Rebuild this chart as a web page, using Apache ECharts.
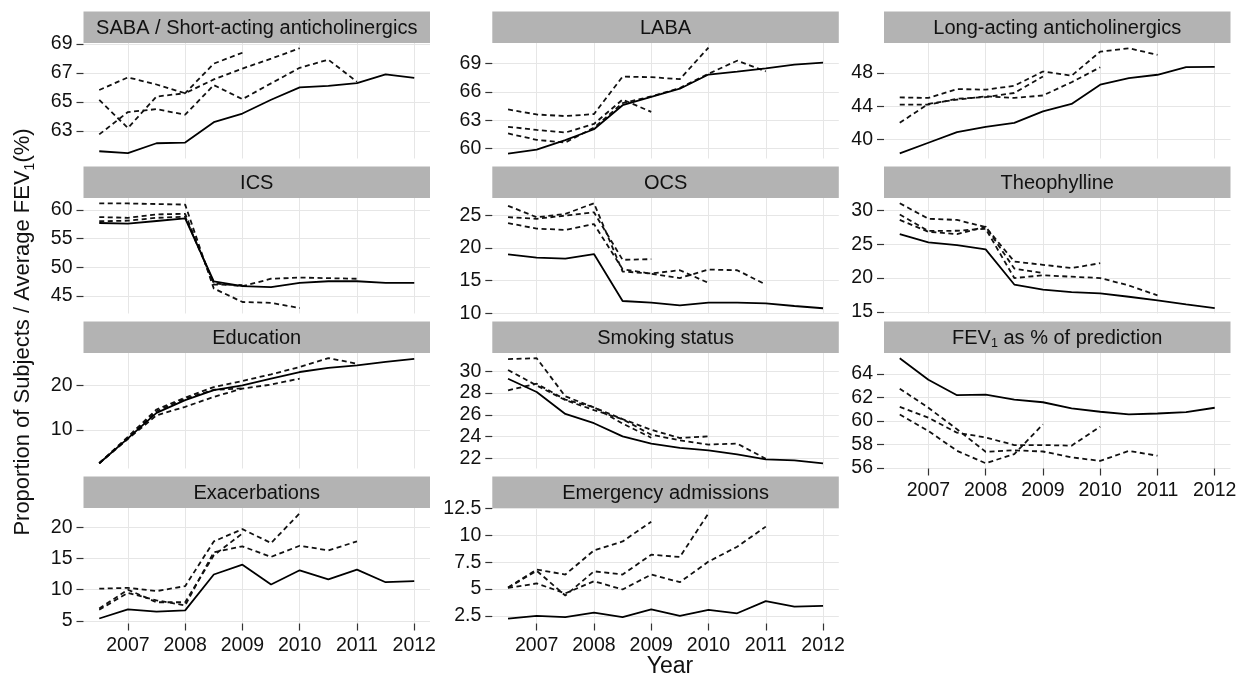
<!DOCTYPE html>
<html>
<head>
<meta charset="utf-8">
<title>Trends by year</title>
<script src="https://cdn.jsdelivr.net/npm/echarts@6/dist/echarts.min.js"></script>
<style>
  html, body { margin: 0; padding: 0; background: #fff; }
  #chart { width: 1239px; height: 681px; }
</style>
</head>
<body>
<div id="chart"></div>
<script>
// half-year time points
const years = [2006.5, 2007, 2007.5, 2008, 2008.5, 2009, 2009.5, 2010, 2010.5, 2011, 2011.5, 2012];
const yearTicks = [2007, 2008, 2009, 2010, 2011, 2012];

// solid = all subjects, dashed = cohorts followed up to 2009 / 2010 / 2011
const sabaAll = [61.6, 61.47, 62.15, 62.2, 63.6, 64.2, 65.15, 66.0, 66.1, 66.3, 66.9, 66.66];
const sabaTo2009 = [65.14, 63.2, 65.37, 65.6, 67.64, 68.39];
const sabaTo2010 = [65.82, 66.69, 66.2, 65.6, 66.55, 67.3, 67.98, 68.7];
const sabaTo2011 = [62.76, 64.3, 64.5, 64.12, 66.16, 65.19, 66.28, 67.35, 67.91, 66.39];
const sabaTicks = [63, 65, 67, 69];

const labaAll = [59.46, 59.88, 60.9, 62.04, 64.58, 65.45, 66.32, 67.82, 68.13, 68.48, 68.86, 69.07];
const labaTo2009 = [62.3, 61.97, 61.69, 62.6, 65.17, 63.88];
const labaTo2010 = [64.13, 63.6, 63.43, 63.64, 67.6, 67.54, 67.33, 70.67];
const labaTo2011 = [61.6, 60.92, 60.64, 62.2, 64.8, 65.5, 66.4, 67.9, 69.28, 68.16];
const labaTicks = [60, 63, 66, 69];

const laaAll = [38.31, 39.6, 40.87, 41.52, 42.0, 43.39, 44.28, 46.6, 47.4, 47.8, 48.72, 48.75];
const laaTo2009 = [44.2, 44.2, 44.9, 45.1, 45.6, 47.6];
const laaTo2010 = [42.0, 44.3, 44.8, 45.2, 45.0, 45.3, 46.9, 48.7];
const laaTo2011 = [45.07, 45.0, 46.08, 46.0, 46.47, 48.19, 47.68, 50.59, 51.0, 50.2];
const laaTicks = [40, 44, 48];

const icsAll = [57.7, 57.6, 58.05, 58.5, 47.56, 46.7, 46.53, 47.28, 47.56, 47.56, 47.28, 47.28];
const icsTo2009 = [58.73, 58.6, 59.2, 59.3, 47.0, 46.9];
const icsTo2010 = [61.13, 61.1, 61.0, 60.9, 46.3, 43.95, 43.8, 42.9];
const icsTo2011 = [58.0, 58.1, 58.6, 58.8, 47.2, 46.7, 48.0, 48.2, 48.1, 48.0];
const icsTicks = [45, 50, 55, 60];

const ocsAll = [19.04, 18.53, 18.38, 19.09, 11.87, 11.62, 11.21, 11.62, 11.62, 11.5, 11.1, 10.76];
const ocsTo2009 = [24.75, 24.5, 25.0, 25.5, 18.2, 18.3];
const ocsTo2010 = [26.5, 24.75, 25.25, 26.9, 16.4, 16.1, 16.6, 14.65];
const ocsTo2011 = [23.84, 23.0, 22.8, 23.7, 16.77, 16.06, 15.4, 16.7, 16.6, 14.4];
const ocsTicks = [10, 15, 20, 25];

const theoAll = [26.5, 25.27, 24.88, 24.25, 19.04, 18.3, 17.91, 17.72, 17.23, 16.7, 16.1, 15.53];
const theoTo2009 = [28.6, 26.85, 26.5, 27.6, 21.4, 20.74];
const theoTo2010 = [31.07, 28.78, 28.6, 27.56, 22.44, 21.96, 21.47, 22.2];
const theoTo2011 = [29.4, 26.97, 27.0, 27.3, 20.0, 20.4, 20.2, 20.0, 18.9, 17.43];
const theoTicks = [15, 20, 25, 30];

const eduAll = [2.6, 8.15, 13.85, 16.67, 18.9, 20.0, 21.48, 22.96, 23.9, 24.44, 25.2, 25.9];
const eduTo2009 = [2.6, 8.3, 14.2, 17.0, 19.0, 19.3];
const eduTo2010 = [2.6, 8.0, 13.3, 15.2, 17.4, 19.26, 20.15, 21.48];
const eduTo2011 = [2.6, 8.5, 14.6, 17.26, 19.6, 20.96, 22.44, 24.07, 26.07, 24.8];
const eduTicks = [10, 20];

const smkAll = [29.31, 28.1, 26.08, 25.23, 24.02, 23.36, 22.97, 22.73, 22.36, 21.91, 21.82, 21.55];
const smkTo2009 = [28.25, 28.86, 27.4, 26.7, 25.2, 23.9];
const smkTo2010 = [31.12, 31.2, 27.7, 26.68, 25.6, 24.63, 23.87, 24.02];
const smkTo2011 = [30.12, 28.7, 27.35, 26.44, 25.6, 24.17, 23.66, 23.27, 23.36, 21.97];
const smkTicks = [22, 24, 26, 28, 30];

const fevAll = [65.35, 63.52, 62.2, 62.25, 61.83, 61.6, 61.07, 60.79, 60.56, 60.64, 60.75, 61.13];
const fevTo2009 = [60.56, 59.15, 57.46, 56.4, 57.18, 59.72];
const fevTo2010 = [61.21, 60.28, 59.0, 58.6, 57.95, 57.95, 57.9, 59.52];
const fevTo2011 = [62.76, 61.13, 59.3, 57.38, 57.5, 57.4, 56.9, 56.6, 57.45, 57.04];
const fevTicks = [56, 58, 60, 62, 64];

const exaAll = [5.4, 6.87, 6.5, 6.7, 12.43, 14.0, 10.84, 13.1, 11.64, 13.2, 11.2, 11.37];
const exaTo2009 = [7.0, 10.0, 8.0, 8.0, 15.5, 19.0];
const exaTo2010 = [10.16, 10.3, 9.78, 10.57, 17.72, 19.68, 17.46, 22.22];
const exaTo2011 = [6.8, 9.5, 8.3, 7.5, 16.0, 16.93, 15.24, 17.03, 16.29, 17.72];
const exaTicks = [5, 10, 15, 20];

const emgAll = [2.26, 2.5, 2.4, 2.81, 2.4, 3.12, 2.5, 3.06, 2.75, 3.88, 3.37, 3.43];
const emgTo2009 = [5.15, 6.81, 6.35, 8.59, 9.42, 11.26];
const emgTo2010 = [5.12, 6.7, 4.4, 6.65, 6.35, 8.19, 7.98, 12.04];
const emgTo2011 = [5.1, 5.52, 4.6, 5.73, 4.96, 6.35, 5.64, 7.55, 8.93, 10.8];
const emgTicks = [2.5, 5, 7.5, 10, 12.5];

const FONT = '"Liberation Sans", Arial, sans-serif';
const TICK_SIZE = 19.5;
const colLeft = [83.5, 492.3, 884];
const panelW = 346.5;
const stripTop = [11.5, 166.5, 321.5, 476.5];
const stripH = 31.5;
const plotH = 115.5;

const panels = [
  { label: 'SABA / Short-acting anticholinergics', all: sabaAll, cohorts: [sabaTo2009, sabaTo2010, sabaTo2011], min: 61.1, max: 69.06, ticks: sabaTicks },
  { label: 'LABA', all: labaAll, cohorts: [labaTo2009, labaTo2010, labaTo2011], min: 58.95, max: 71.15, ticks: labaTicks },
  { label: 'Long-acting anticholinergics', all: laaAll, cohorts: [laaTo2009, laaTo2010, laaTo2011], min: 37.7, max: 51.63, ticks: laaTicks },
  { label: 'ICS', all: icsAll, cohorts: [icsTo2009, icsTo2010, icsTo2011], min: 41.95, max: 62.05, ticks: icsTicks },
  { label: 'OCS', all: ocsAll, cohorts: [ocsTo2009, ocsTo2010, ocsTo2011], min: 9.95, max: 27.7, ticks: ocsTicks },
  { label: 'Theophylline', all: theoAll, cohorts: [theoTo2009, theoTo2010, theoTo2011], min: 14.75, max: 31.85, ticks: theoTicks },
  { label: 'Education', all: eduAll, cohorts: [eduTo2009, eduTo2010, eduTo2011], min: 1.43, max: 27.2, ticks: eduTicks },
  { label: 'Smoking status', all: smkAll, cohorts: [smkTo2009, smkTo2010, smkTo2011], min: 21.07, max: 31.68, ticks: smkTicks },
  { label: '{t|FEV}{s|1}{t| as % of prediction}', all: fevAll, cohorts: [fevTo2009, fevTo2010, fevTo2011], min: 55.95, max: 65.8, ticks: fevTicks, bottom: true },
  { label: 'Exacerbations', all: exaAll, cohorts: [exaTo2009, exaTo2010, exaTo2011], min: 4.6, max: 23.06, ticks: exaTicks, bottom: true },
  { label: 'Emergency admissions', all: emgAll, cohorts: [emgTo2009, emgTo2010, emgTo2011], min: 1.8, max: 12.53, ticks: emgTicks, bottom: true }
];

function toPoints (arr) {
  return arr.map(function (v, k) { return [years[k], v] })
}

const richText = {
  t: { fontSize: 20, fontFamily: FONT, fill: '#111', lineHeight: 24 },
  s: { fontSize: 12.5, fontFamily: FONT, fill: '#111', lineHeight: 12, verticalAlign: 'bottom' }
};

const grids = [];
const xAxes = [];
const yAxes = [];
const series = [];
const graphics = [];

panels.forEach(function (p, i) {
  const row = Math.floor(i / 3);
  const col = i % 3;
  const left = colLeft[col];
  const top = stripTop[row] + stripH;
  const showX = !!p.bottom;

  grids.push({ left: left, top: top, width: panelW, height: plotH, containLabel: false, outerBoundsMode: 'none' });

  xAxes.push({
    gridIndex: i,
    type: 'value',
    min: 2006.225,
    max: 2012.275,
    axisLine: { show: false },
    axisTick: { show: showX, customValues: yearTicks, length: 7, lineStyle: { color: '#333', width: 1.2 } },
    axisLabel: {
      show: showX,
      customValues: yearTicks,
      margin: 12,
      fontSize: TICK_SIZE,
      fontFamily: FONT,
      color: '#111',
      formatter: function (v) { return String(v) }
    },
    splitLine: { show: true, lineStyle: { color: '#e6e6e6', width: 1 } }
  });

  yAxes.push({
    gridIndex: i,
    type: 'value',
    min: p.min,
    max: p.max,
    axisLine: { show: false },
    axisTick: { show: true, customValues: p.ticks, length: 7, lineStyle: { color: '#333', width: 1.2 } },
    axisLabel: { customValues: p.ticks, margin: 11, fontSize: TICK_SIZE, fontFamily: FONT, color: '#111' },
    splitLine: { show: true, lineStyle: { color: '#e6e6e6', width: 1 } }
  });

  p.cohorts.forEach(function (c) {
    series.push({
      type: 'line',
      xAxisIndex: i,
      yAxisIndex: i,
      data: toPoints(c),
      symbol: 'none',
      silent: true,
      z: 2,
      lineStyle: { color: '#111', width: 1.8, type: [5, 3.5] }
    });
  });
  series.push({
    type: 'line',
    xAxisIndex: i,
    yAxisIndex: i,
    data: toPoints(p.all),
    symbol: 'none',
    silent: true,
    z: 3,
    lineStyle: { color: '#000', width: 1.8, type: 'solid' }
  });

  // facet strip
  graphics.push({
    type: 'rect',
    silent: true,
    shape: { x: left, y: stripTop[row], width: panelW, height: stripH },
    style: { fill: '#b3b3b3' }
  });
  const lbl = p.label.indexOf('{') === 0 ? p.label : '{t|' + p.label + '}';
  graphics.push({
    type: 'text',
    silent: true,
    x: left + panelW / 2,
    y: stripTop[row] + stripH / 2 + 1,
    style: { text: lbl, rich: richText, align: 'center', verticalAlign: 'middle' }
  });
});

// axis titles
graphics.push({
  type: 'text',
  silent: true,
  x: 23,
  y: 332,
  rotation: Math.PI / 2,
  style: {
    text: '{t|Proportion of Subjects / Average FEV}{s|1}{t|(%)}',
    rich: {
      t: { fontSize: 22, fontFamily: FONT, fill: '#111', lineHeight: 28 },
      s: { fontSize: 14, fontFamily: FONT, fill: '#111', lineHeight: 14, verticalAlign: 'bottom' }
    },
    align: 'center',
    verticalAlign: 'middle'
  }
});
graphics.push({
  type: 'text',
  silent: true,
  x: 670,
  y: 667,
  style: { text: 'Year', fontSize: 23, fontFamily: FONT, fill: '#111', align: 'center', verticalAlign: 'middle' }
});

const chart = echarts.init(document.getElementById('chart'));
chart.setOption({
  animation: false,
  backgroundColor: '#fff',
  grid: grids,
  xAxis: xAxes,
  yAxis: yAxes,
  series: series,
  graphic: graphics
});
</script>
</body>
</html>
